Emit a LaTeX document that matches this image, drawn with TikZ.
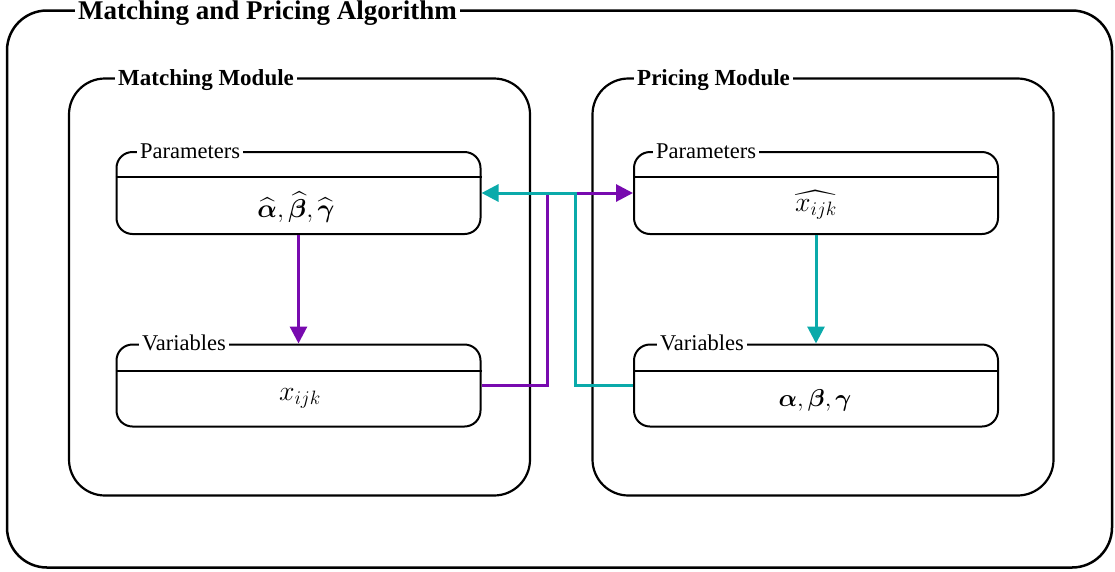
\documentclass[tikz,border=0pt]{standalone}
\usepackage{graphicx}
\usepackage{amsmath,bm}
\usepackage{fontspec}
\setmainfont{Liberation Serif}
\usetikzlibrary{arrows.meta}
\definecolor{purp}{RGB}{120,10,175}
\definecolor{tealc}{RGB}{10,170,170}
\newcommand{\bigmath}[2]{\scalebox{#1}{$#2$}}
\begin{document}
\begin{tikzpicture}[x=1pt,y=-1pt,
  frameouter/.style={draw,line width=2.5pt,rounded corners=40pt,minimum width=1105pt,minimum height=557pt,inner sep=0pt},
  framemod/.style={draw,line width=2.2pt,rounded corners=36pt,minimum width=461pt,minimum height=417pt,inner sep=0pt},
  boxin/.style={draw,line width=2pt,rounded corners=16pt,minimum width=364pt,minimum height=82pt,inner sep=0pt},
  maintitle/.style={fill=white,inner xsep=3pt,inner ysep=0pt,anchor=base west,font=\fontsize{27}{30}\selectfont\bfseries},
  modtitle/.style={fill=white,inner xsep=3pt,inner ysep=0pt,anchor=base west,font=\fontsize{23}{26}\selectfont\bfseries},
  boxtitle/.style={fill=white,inner xsep=3pt,inner ysep=0pt,anchor=base west,font=\fontsize{22.5}{25}\selectfont},
  mathlab/.style={font=\fontsize{24}{28}\selectfont},
  conn/.style={line width=3pt},
  tip/.style={-{Triangle[length=17pt,width=17pt]}}
]
\useasboundingbox (0,0) rectangle (1115,571);
% outer frame
\node[frameouter] (outer) at (559.5,289) {};
\node[maintitle] (outert) at (75,19) {Matching and Pricing Algorithm};
% modules
\node[framemod] (mm) at (299.5,287) {};
\node[modtitle] (mmt) at (115,85) {Matching Module};
\node[framemod] (pm) at (823,287) {};
\node[modtitle] (pmt) at (634,85) {Pricing Module};
% inner boxes
\node[boxin] (mp) at (298.5,193) {};
\node[boxin] (mv) at (298.5,385.5) {};
\node[boxin] (pp) at (816,193) {};
\node[boxin] (pv) at (816,385.5) {};
\foreach \b/\d in {mp/26,mv/27,pp/26,pv/27}{
  \draw[line width=2pt] ([yshift=-\d pt]\b.north west) -- ([yshift=-\d pt]\b.north east);
}
\node[boxtitle] (mpt) at (137,158) {Parameters};
\node[boxtitle] (mvt) at (139,350) {Variables};
\node[boxtitle] (ppt) at (653,158) {Parameters};
\node[boxtitle] (pvt) at (657,350) {Variables};
% contents
\node[mathlab] (mpc) at (296,207) {\bigmath{1.04}{\widehat{\boldsymbol{\alpha}},\widehat{\boldsymbol{\beta}},\widehat{\boldsymbol{\gamma}}}};
\node[mathlab] (mvc) at (300,398) {\bigmath{1.12}{x_{ijk}}};
\node[mathlab] (ppc) at (816,205) {\bigmath{1.12}{\widehat{x_{ijk}}}};
\node[mathlab] (pvc) at (815,400) {\bigmath{0.98}{\boldsymbol{\alpha},\boldsymbol{\beta},\boldsymbol{\gamma}}};
% connectors
\coordinate (pbend) at (547,0);
\coordinate (tbend) at (575,0);
\draw[conn,purp,tip] (mp.south) -- (mv.north);
\draw[conn,tealc,tip] (pp.south) -- (pv.north);
\draw[conn,purp,tip] (mv.east) -- (mv.east -| pbend) -- (pp.west -| pbend) -- (pp.west);
\draw[conn,tealc,tip] (pv.west) -- (pv.west -| tbend) -- (mp.east -| tbend) -- (mp.east);
\end{tikzpicture}
\end{document}
